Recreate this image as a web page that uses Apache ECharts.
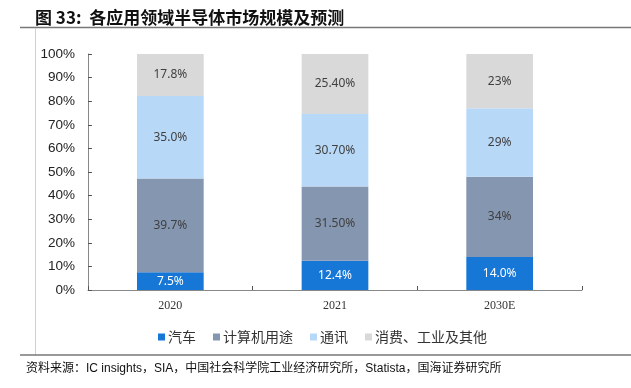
<!DOCTYPE html>
<html>
<head>
<meta charset="utf-8">
<script src="https://cdn.jsdelivr.net/npm/echarts@6/dist/echarts.min.js"></script>
<style>
html,body{margin:0;padding:0;background:#fff;}
#chart{width:631px;height:388px;}
</style>
</head>
<body>
<div id="chart"></div>
<script>
var categories = ['2020', '2021', '2030E'];
var seriesNames = ['汽车', '计算机用途', '通讯', '消费、工业及其他'];
var autoValues = [7.5, 12.4, 14.0];
var computerValues = [39.7, 31.5, 34];
var commValues = [35.0, 30.7, 29];
var consumerValues = [17.8, 25.4, 23];
var autoLabels = ['7.5%', '12.4%', '14.0%'];
var computerLabels = ['39.7%', '31.50%', '34%'];
var commLabels = ['35.0%', '30.70%', '29%'];
var consumerLabels = ['17.8%', '25.40%', '23%'];
var yTickLabels = ['0%', '10%', '20%', '30%', '40%', '50%', '60%', '70%', '80%', '90%', '100%'];

var colors = ['#1677D6', '#8496B0', '#B8D8F8', '#D9D9D9'];
var allValues = [autoValues, computerValues, commValues, consumerValues];
var allLabels = [autoLabels, computerLabels, commLabels, consumerLabels];

var chart = echarts.init(document.getElementById('chart'), null, {renderer: 'canvas'});

var series = seriesNames.map(function (name, i) {
  return {
    name: name,
    type: 'bar',
    stack: 'total',
    barWidth: '40.5%',
    data: allValues[i],
    itemStyle: {color: colors[i]},
    label: {
      show: true,
      position: 'inside',
      fontFamily: 'Noto Sans',
      fontSize: 12,
      color: i === 0 ? '#ffffff' : '#404040',
      formatter: (function (labels) {
        return function (p) { return labels[p.dataIndex]; };
      })(allLabels[i])
    }
  };
});

chart.setOption({
  animation: false,
  backgroundColor: '#ffffff',
  title: {
    text: '图 33:  各应用领域半导体市场规模及预测',
    left: 30,
    top: 4,
    textStyle: {fontFamily: 'Noto Sans CJK SC', fontSize: 17, fontWeight: 'bold', color: '#111'}
  },
  graphic: [
    {type: 'line', shape: {x1: 20, y1: 27.5, x2: 631, y2: 27.5}, style: {stroke: '#777', lineWidth: 1.5}},
    {type: 'line', shape: {x1: 35.5, y1: 28, x2: 35.5, y2: 355}, style: {stroke: '#d0d0d0', lineWidth: 1}},
    {type: 'line', shape: {x1: 20, y1: 355, x2: 631, y2: 355}, style: {stroke: '#777', lineWidth: 1.5}},
    {type: 'text', left: 26, top: 363,
      style: {text: '资料来源：IC insights，SIA，中国社会科学院工业经济研究所，Statista，国海证券研究所',
        fontFamily: 'Liberation Sans, Noto Sans CJK SC', fontSize: 12, fill: '#111'}}
  ],
  legend: {
    data: seriesNames,
    left: 153,
    top: 325,
    itemWidth: 7,
    itemHeight: 7,
    itemGap: 17,
    icon: 'rect',
    textStyle: {fontFamily: 'Noto Sans CJK SC', fontSize: 14, color: '#333', padding: [0, 0, 0, -2]}
  },
  grid: {left: 88, right: 49, top: 54, bottom: 98, containLabel: false},
  xAxis: {
    type: 'category',
    data: categories,
    axisLine: {lineStyle: {color: '#888', width: 1}},
    axisTick: {show: true, inside: true, length: 4, lineStyle: {color: '#555'}},
    axisLabel: {fontFamily: 'Liberation Serif', fontSize: 12, color: '#333', margin: 10}
  },
  yAxis: {
    type: 'value',
    min: 0,
    max: 100,
    interval: 10,
    axisLine: {show: true, lineStyle: {color: '#888', width: 1}},
    axisTick: {show: true, inside: true, length: 4, lineStyle: {color: '#555'}},
    splitLine: {show: false},
    axisLabel: {
      fontFamily: 'Liberation Sans',
      fontSize: 13.5,
      color: '#222',
      margin: 13,
      formatter: function (v) { return yTickLabels[Math.round(v / 10)]; }
    }
  },
  series: series
});
</script>
</body>
</html>
